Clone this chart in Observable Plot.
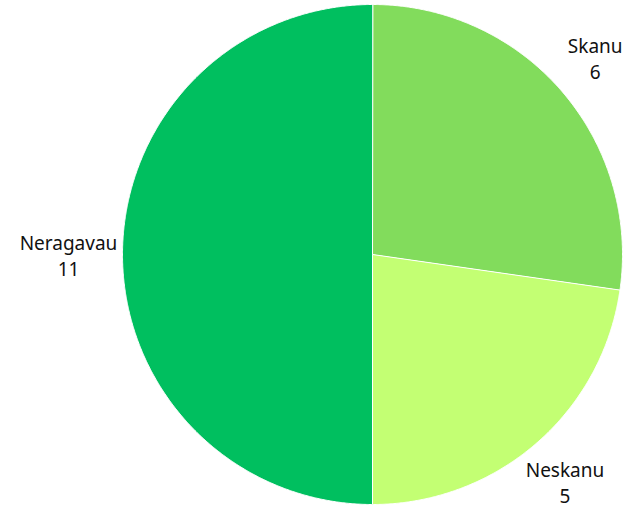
<!DOCTYPE html>
<html>
<head>
<meta charset="utf-8">
<script src="https://cdn.jsdelivr.net/npm/d3@7"></script>
<script src="https://cdn.jsdelivr.net/npm/@observablehq/plot@0.6"></script>
<style>
  html, body { margin: 0; padding: 0; background: #ffffff; }
  #chart { width: 632px; height: 506px; }
</style>
</head>
<body>
<div id="chart"></div>
<script>
const categories = ["Skanu", "Neskanu", "Neragavau"];
const values = [6, 5, 11];
const colors = ["#82dc5c", "#c3ff73", "#00bf5f"];

const pie = d3.pie().sort(null).value(d => d.value);
const arcs = pie(categories.map((c, i) => ({category: c, value: values[i]})));

// slice polygons in unit coordinates (angle measured clockwise from top)
const slicePoints = [];
arcs.forEach(a => {
  slicePoints.push({category: a.data.category, x: 0, y: 0});
  const n = Math.max(2, Math.ceil((a.endAngle - a.startAngle) / 0.005));
  for (let k = 0; k <= n; k++) {
    const t = a.startAngle + (a.endAngle - a.startAngle) * k / n;
    slicePoints.push({category: a.data.category, x: Math.sin(t), y: Math.cos(t)});
  }
});

const labelR = 1.2;
const labels = arcs.map(a => {
  const m = (a.startAngle + a.endAngle) / 2;
  return {text: `${a.data.category}\n${a.data.value}`, x: labelR * Math.sin(m), y: labelR * Math.cos(m)};
});

const chart = Plot.plot({
  width: 632,
  height: 506,
  margin: 0,
  style: {background: "#ffffff", fontFamily: "'Noto Sans', 'IBM Plex Sans', sans-serif"},
  x: {type: "linear", domain: [-1, 1], range: [122, 622], axis: null},
  y: {type: "linear", domain: [-1, 1], range: [504, 4], axis: null},
  color: {domain: categories, range: colors},
  marks: [
    Plot.line(slicePoints, {x: "x", y: "y", z: "category", fill: "category", stroke: "#ffffff", strokeWidth: 1, curve: "linear-closed"}),
    Plot.text(labels, {x: "x", y: "y", text: "text", fontSize: 19, lineHeight: 1.37, dx: -4, fill: "#111111", textAnchor: "middle"})
  ]
});
document.getElementById("chart").appendChild(chart);
</script>
</body>
</html>
